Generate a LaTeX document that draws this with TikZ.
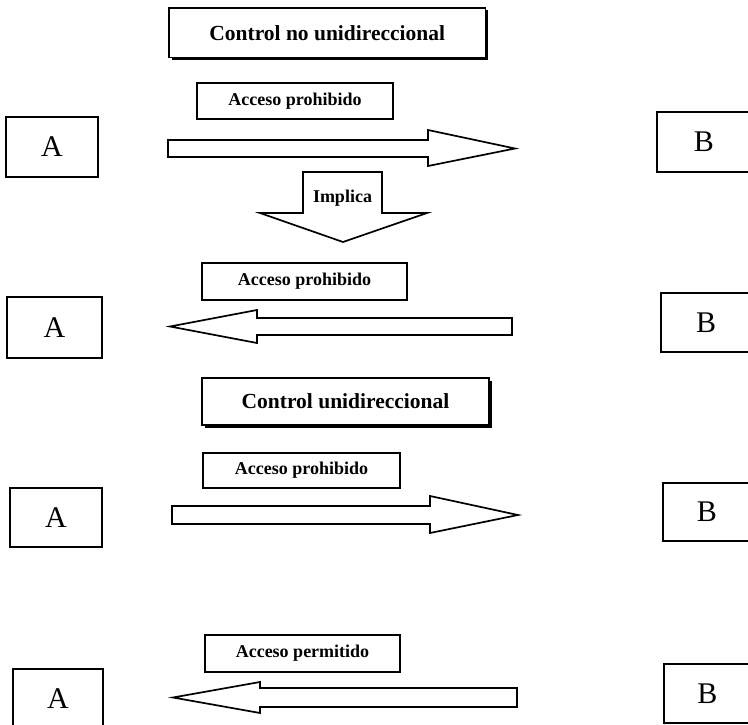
\documentclass[tikz,border=0pt]{standalone}
\usepackage{fontspec}
\setmainfont{Liberation Serif}
\usetikzlibrary{shadows}
\begin{document}
\begin{tikzpicture}[x=1pt,y=-1pt,
  ln/.style={line width=1.7pt},
  ent/.style={draw, ln, inner sep=0pt, font=\fontsize{30}{30}\selectfont},
  titlebox/.style={draw, ln, fill=white, inner sep=0pt, font=\bfseries\fontsize{21.5}{22}\selectfont,
    drop shadow={shadow xshift=2.5pt, shadow yshift=-2.5pt, fill=black, opacity=1}},
  lbl/.style={draw, ln, fill=white, inner sep=0pt, font=\bfseries\fontsize{18}{18}\selectfont},
  blk/.style={draw, ln, fill=white, line join=miter}]
\useasboundingbox (0,0) rectangle (748,725);
\clip (0,0) rectangle (748,725);

% titles
\node[titlebox, minimum width=316.5, minimum height=49.5] (t1) at (327.25,32.75) {Control no unidireccional};
\node[titlebox, minimum width=287, minimum height=47] (t2) at (345.5,401.5) {Control unidireccional};

% A and B boxes
\node[ent, minimum width=92, minimum height=60] (a1) at (52,147) {A};
\node[ent, minimum width=94, minimum height=60] (b1) at (704,142) {B};
\node[ent, minimum width=95, minimum height=61] (a2) at (54.5,327.5) {A};
\node[ent, minimum width=90, minimum height=59] (b2) at (706,322.5) {B};
\node[ent, minimum width=92, minimum height=59] (a3) at (56,517.5) {A};
\node[ent, minimum width=88, minimum height=58] (b3) at (707,512) {B};
\node[ent, minimum width=90, minimum height=60] (a4) at (58,699) {A};
\node[ent, minimum width=87, minimum height=59] (b4) at (707.5,693.5) {B};

% block arrows
\draw[blk] (168,140)--(428,140)--(428,130)--(515,148.5)--(428,166)--(428,157)--(168,157)--cycle;
\draw[blk] (512,318)--(257,318)--(257,310)--(170,326.5)--(257,343)--(257,335)--(512,335)--cycle;
\draw[blk] (172,506)--(430,506)--(430,496)--(518,515)--(430,533)--(430,524)--(172,524)--cycle;
\draw[blk] (517,688)--(260,688)--(260,682)--(173,697.5)--(260,713)--(260,707)--(517,707)--cycle;
\draw[blk] (303,172)--(382,172)--(382,213)--(427,213)--(343,242)--(260,213)--(303,213)--cycle;
\node[font=\bfseries\fontsize{18}{18}\selectfont, inner sep=0pt] (imp) at (342.5,198) {Implica};

% labels
\node[lbl, minimum width=196, minimum height=36] (l1) at (295,101) {Acceso prohibido};
\node[lbl, minimum width=205, minimum height=37] (l2) at (304.5,281.5) {Acceso prohibido};
\node[lbl, minimum width=197, minimum height=35] (l3) at (301.5,470.5) {Acceso prohibido};
\node[lbl, minimum width=195, minimum height=37] (l4) at (302.5,653.5) {Acceso permitido};
\end{tikzpicture}
\end{document}
